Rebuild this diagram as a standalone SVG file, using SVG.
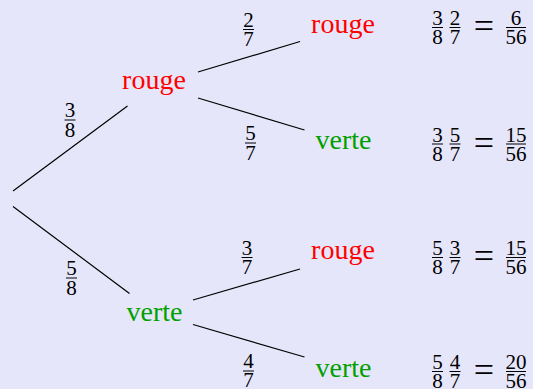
<svg xmlns="http://www.w3.org/2000/svg" width="533" height="389" viewBox="0 0 533 389">
<style>
.lbl{font-family:"Liberation Serif","Times New Roman",serif;font-size:28px;text-anchor:middle}
.r{fill:#ff0000}
.g{fill:#00a000}
.d{font-family:"Liberation Serif","Times New Roman",serif;font-size:21px;text-anchor:middle;fill:#000}
.eq{font-family:"Liberation Serif","Times New Roman",serif;font-size:36px;text-anchor:middle;fill:#000}
.e{stroke:#000;stroke-width:1.2;fill:none}
.bar{stroke:#000;stroke-width:1;fill:none}
</style>
<rect width="533" height="389" fill="#e6e6fa"/>
<g id="connectors">
<line class="e" x1="13" y1="191" x2="127.5" y2="106"/>
<line class="e" x1="13" y1="206.5" x2="129.5" y2="293.5"/>
<line class="e" x1="198" y1="72" x2="300" y2="41.5"/>
<line class="e" x1="198" y1="98" x2="304.5" y2="130"/>
<line class="e" x1="193" y1="300" x2="300" y2="269"/>
<line class="e" x1="193" y1="324.5" x2="304.5" y2="357"/>
<g id="edge-labels">
<text class="d" x="70" y="117">3</text><line class="bar" x1="64.5" y1="120" x2="75.5" y2="120"/><text class="d" x="70" y="137">8</text>
<text class="d" x="71.5" y="275">5</text><line class="bar" x1="66" y1="278" x2="77" y2="278"/><text class="d" x="71.5" y="295">8</text>
<text class="d" x="248.5" y="26.5">2</text><line class="bar" x1="243" y1="29.5" x2="254" y2="29.5"/><text class="d" x="248.5" y="46">7</text>
<text class="d" x="250.5" y="140">5</text><line class="bar" x1="245" y1="143" x2="256" y2="143"/><text class="d" x="250.5" y="159.5">7</text>
<text class="d" x="247" y="254.5">3</text><line class="bar" x1="241.5" y1="257.5" x2="252.5" y2="257.5"/><text class="d" x="247" y="274">7</text>
<text class="d" x="248.5" y="368">4</text><line class="bar" x1="243" y1="371" x2="254" y2="371"/><text class="d" x="248.5" y="387">7</text>
</g>
</g>
<g id="n_rouge"><text class="lbl r" x="154" y="88.7">rouge</text></g>
<g id="n_verte"><text class="lbl g" x="154.5" y="320.7">verte</text></g>
<g id="n_rr"><text class="lbl r" x="343" y="33">rouge</text></g>
<g id="n_rv"><text class="lbl g" x="343.5" y="149.3">verte</text></g>
<g id="n_vr"><text class="lbl r" x="343" y="259.3">rouge</text></g>
<g id="n_vv"><text class="lbl g" x="343.5" y="377.3">verte</text></g>
<g id="res_rr">
<text class="d" x="437.5" y="25">3</text><line class="bar" x1="432" y1="27.5" x2="443" y2="27.5"/><text class="d" x="437.5" y="44">8</text>
<text class="d" x="455" y="25">2</text><line class="bar" x1="449.5" y1="27.5" x2="460.5" y2="27.5"/><text class="d" x="455" y="44">7</text>
<text class="eq" x="484" y="38">=</text>
<text class="d" x="516" y="25">6</text><line class="bar" x1="506" y1="27.5" x2="526" y2="27.5"/><text class="d" x="516" y="44">56</text>
</g>
<g id="res_rv">
<text class="d" x="437.5" y="141.5">3</text><line class="bar" x1="432" y1="144" x2="443" y2="144"/><text class="d" x="437.5" y="160.5">8</text>
<text class="d" x="455" y="141.5">5</text><line class="bar" x1="449.5" y1="144" x2="460.5" y2="144"/><text class="d" x="455" y="160.5">7</text>
<text class="eq" x="484" y="154.5">=</text>
<text class="d" x="516" y="141.5">15</text><line class="bar" x1="506" y1="144" x2="526" y2="144"/><text class="d" x="516" y="160.5">56</text>
</g>
<g id="res_vr">
<text class="d" x="437.5" y="255">5</text><line class="bar" x1="432" y1="257.5" x2="443" y2="257.5"/><text class="d" x="437.5" y="274">8</text>
<text class="d" x="455" y="255">3</text><line class="bar" x1="449.5" y1="257.5" x2="460.5" y2="257.5"/><text class="d" x="455" y="274">7</text>
<text class="eq" x="484" y="268">=</text>
<text class="d" x="516" y="255">15</text><line class="bar" x1="506" y1="257.5" x2="526" y2="257.5"/><text class="d" x="516" y="274">56</text>
</g>
<g id="res_vv">
<text class="d" x="437.5" y="369">5</text><line class="bar" x1="432" y1="371.5" x2="443" y2="371.5"/><text class="d" x="437.5" y="387.5">8</text>
<text class="d" x="455" y="369">4</text><line class="bar" x1="449.5" y1="371.5" x2="460.5" y2="371.5"/><text class="d" x="455" y="387.5">7</text>
<text class="eq" x="484" y="382">=</text>
<text class="d" x="516" y="369">20</text><line class="bar" x1="506" y1="371.5" x2="526" y2="371.5"/><text class="d" x="516" y="387.5">56</text>
</g>
</svg>
